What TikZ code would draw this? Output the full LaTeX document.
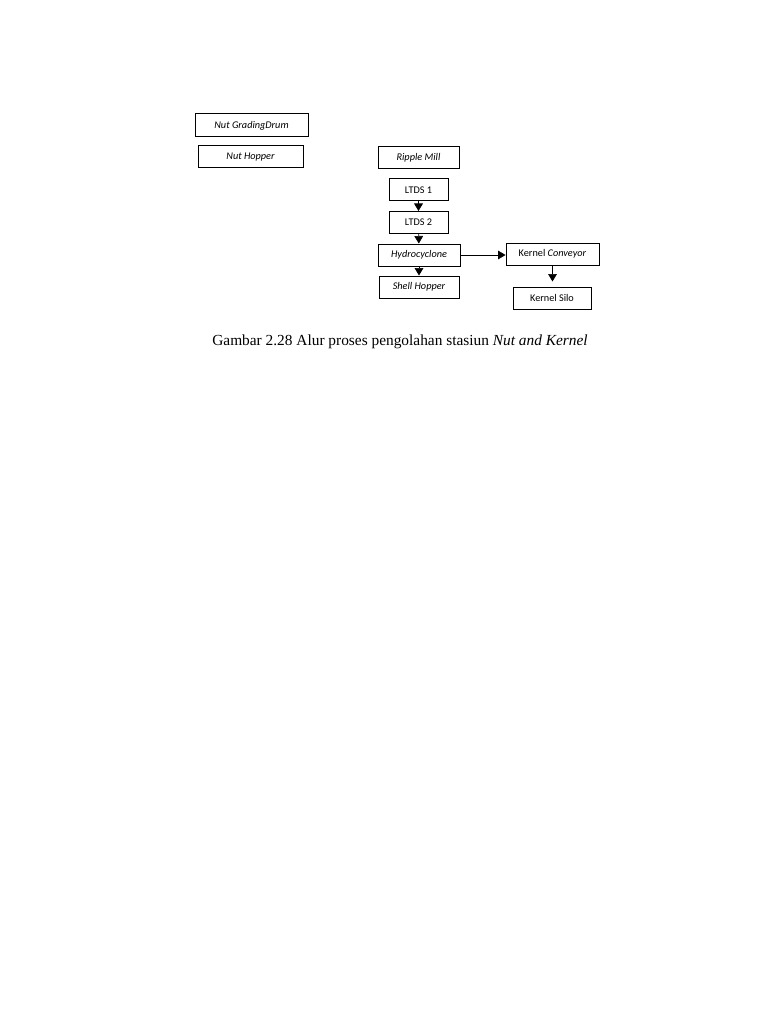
\documentclass[tikz,border=0pt]{standalone}
\usepackage{fontspec}
\setmainfont{Liberation Serif}
\newfontfamily\boxfont{Carlito}
\usetikzlibrary{arrows.meta,positioning}
\tikzset{proc/.style={draw,line width=0.8pt,inner sep=0pt,minimum height=17.6pt,font=\boxfont\fontsize{8.2}{9}\selectfont},
	flow/.style={-{Triangle[length=6pt,width=7pt]},line width=0.5pt}}
\begin{document}
\begin{tikzpicture}[x=0.8pt,y=-0.8pt]
			\useasboundingbox (0,0) rectangle (768,1024);
			\node[proc,minimum width=90.4pt,minimum height=18.4pt] (grading) at (251.5,125.5) {\itshape Nut GradingDrum};
			\node[proc,minimum width=84pt] (nuthopper) at (250.5,157) {\itshape Nut Hopper};
			\node[proc,minimum width=64.8pt] (ripple) at (418.5,157.5) {\itshape Ripple Mill};
			\node[proc,minimum width=47.2pt] (ltds1) at (418.5,190) {LTDS 1};
			\node[proc,minimum width=47.2pt] (ltds2) at (418.5,222.5) {LTDS 2};
			\node[proc,minimum width=65.6pt] (hydro) at (419,255) {\itshape Hydrocyclone};
			\node[proc,minimum width=64pt] (shell) at (419,287) {\itshape Shell Hopper};
			\node[proc,minimum width=74.4pt] (conveyor) at (552.5,254) {Kernel \textit{Conveyor}};
			\node[proc,minimum width=62.4pt] (silo) at (552,298) {Kernel Silo};
			\draw[flow] (ltds1) -- (ltds2);
			\draw[flow] (ltds2) -- (hydro);
			\draw[flow] (hydro) -- (shell);
			\draw[flow,line width=0.3pt] (hydro.east) -- (hydro.east -| conveyor.west);
			\draw[flow,shorten >=4pt] (conveyor) -- (conveyor |- silo.north);
			\node[font=\fontsize{12.3}{14}\selectfont] (caption) at (400,342) {Gambar 2.28 Alur proses pengolahan stasiun \textit{Nut and Kernel}};
			\end{tikzpicture}
\end{document}
